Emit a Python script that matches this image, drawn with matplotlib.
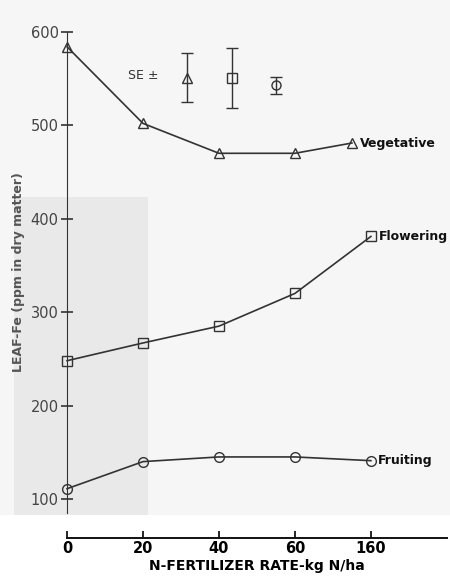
import matplotlib.pyplot as plt
from matplotlib.patches import Rectangle

# N-fertilizer rate (kg N/ha)
rate = [0, 20, 40, 60, 80]
rate_veg = [0, 20, 40, 60, 75]
vegetative = [584, 502, 470, 470, 481]
flowering = [248, 267, 285, 320, 381]
fruiting = [111, 140, 145, 145, 141]

# standard errors (shown as separate bars near the top)
se_x = [31.5, 43.5, 55]
se_y = [551, 551, 543]
se_err = [26, 32, 9]
se_marker = ["^", "s", "o"]

xticks = [0, 20, 40, 60, 80]
xticklabels = ["0", "20", "40", "60", "160"]
yticks = [100, 200, 300, 400, 500, 600]

ink = "#333333"

fig = plt.figure(figsize=(4.5, 5.79), dpi=100)
fig.patch.set_facecolor("#f6f6f6")

# scan shading, drawn on a background axes
bg = fig.add_axes([0, 0, 1, 1], zorder=-1)
bg.set_xlim(0, 1)
bg.set_ylim(0, 1)
bg.axis("off")
bg.add_patch(Rectangle((0, 0), 1, 0.11, color="white", lw=0))
bg.add_patch(Rectangle((0.03, 0.11), 0.30, 0.55, color="#e9e9e9", lw=0))

ax = fig.add_axes([0.149, 0.114, 0.844, 0.831], zorder=1)
ax.set_facecolor("none")

mk = dict(color=ink, lw=1.2, mfc="none", mec=ink, mew=1.0, clip_on=False)
ax.plot(rate_veg, vegetative, marker="^", ms=7.5, **mk)
ax.plot(rate, flowering, marker="s", ms=6.5, **mk)
ax.plot(rate, fruiting, marker="o", ms=7, **mk)

for x, y, e, m in zip(se_x, se_y, se_err, se_marker):
    ax.errorbar([x], [y], yerr=[e], fmt=m, color=ink, ms=6.5, mfc="none",
                mec=ink, ecolor=ink, elinewidth=1.0, capsize=4, capthick=1.0)
ax.text(16, 553, "SE ±", fontsize=9, color=ink, va="center")

lab = dict(fontsize=9, fontweight="bold", color="#111111", va="center")
ax.annotate("Vegetative", (rate_veg[-1], vegetative[-1]), xytext=(6, 0),
            textcoords="offset points", **lab)
ax.annotate("Flowering", (rate[-1], flowering[-1]), xytext=(6, 0),
            textcoords="offset points", **lab)
ax.annotate("Fruiting", (rate[-1], fruiting[-1]), xytext=(5, 0),
            textcoords="offset points", **lab)

ax.set_xlim(0, 100)
ax.set_ylim(85, 600)
ax.spines["top"].set_visible(False)
ax.spines["right"].set_visible(False)
ax.spines["bottom"].set_position(("outward", 18))
ax.spines["left"].set_color(ink)
ax.spines["bottom"].set_color("#111111")
ax.spines["bottom"].set_linewidth(1.4)

ax.set_xticks(xticks)
ax.set_xticklabels(xticklabels, fontsize=10.5, fontweight="bold")
ax.set_yticks(yticks)
ax.set_yticklabels([str(v) for v in yticks], fontsize=10.5, color="#444444")
ax.tick_params(axis="x", direction="in", length=5, width=1.2, pad=2)
ax.tick_params(axis="y", direction="inout", length=8, width=1.2, pad=2,
               color=ink)

ax.set_xlabel("N-FERTILIZER RATE-kg N/ha", fontsize=10, fontweight="bold",
              labelpad=2)
ax.set_ylabel("LEAF-Fe (ppm in dry matter)", fontsize=9, fontweight="bold",
              color="#555555", labelpad=4)

fig.savefig("out.png", dpi=100, facecolor=fig.get_facecolor())
